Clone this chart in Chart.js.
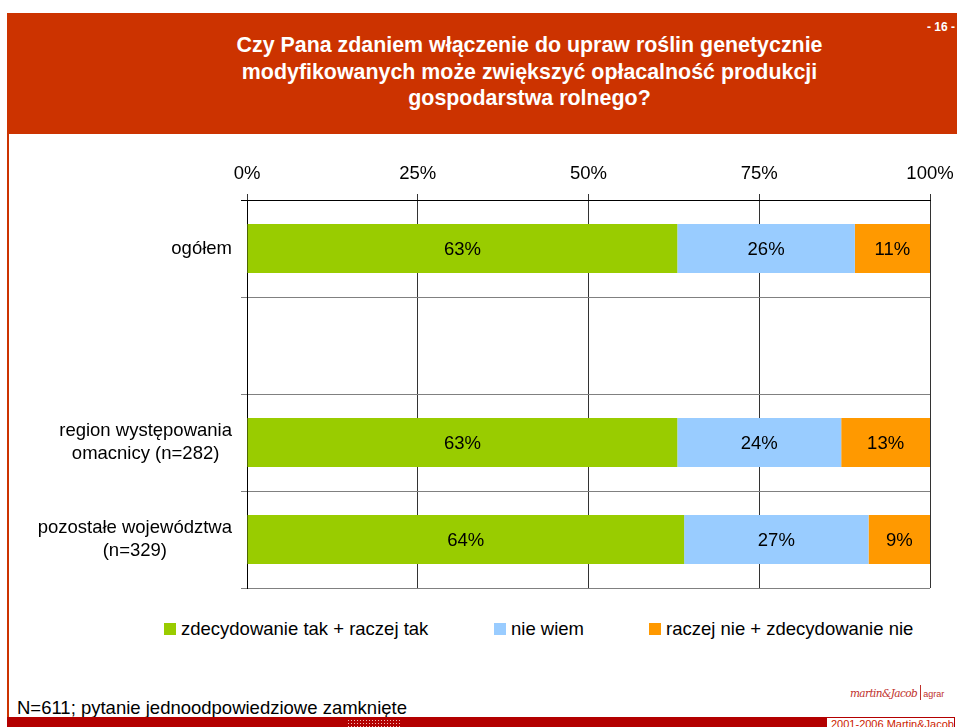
<!DOCTYPE html>
<html>
<head>
<meta charset="utf-8">
<script src="https://cdn.jsdelivr.net/npm/chart.js@4/dist/chart.umd.min.js"></script>
<style>
  html, body { margin:0; padding:0; background:#fff; }
  body { width:957px; height:727px; position:relative; overflow:hidden; font-family:"Liberation Sans", Arial, sans-serif; }
  #header { position:absolute; left:7px; top:13px; width:950px; height:121px; background:#CC3300; }
  #title { position:absolute; left:7px; top:32px; width:1045px; text-align:center; color:#fff; font-weight:bold; font-size:21.4px; line-height:26.5px; }
  #page { position:absolute; left:927px; top:20px; color:#fff; font-weight:bold; font-size:12px; white-space:nowrap; }
  #leftline { position:absolute; left:7px; top:134px; width:2px; height:584px; background:#CC3300; }
  #chartbox { position:absolute; left:0; top:140px; width:957px; height:460px; }
  #legend { position:absolute; top:618px; left:0; width:957px; height:24px; font-size:18.5px; color:#000; }
  .li { position:absolute; top:0; white-space:nowrap; line-height:22px; }
  .sw { position:absolute; width:12px; height:12px; top:5px; }
  #note { position:absolute; left:17px; top:697px; font-size:18.5px; color:#000; white-space:nowrap; line-height:22px; }
  #bottombar { position:absolute; left:7px; top:717px; width:819px; height:10px; background:#B30000; }
  #dots { position:absolute; left:347px; top:719px; width:54px; height:8px;
          background-image: radial-gradient(circle, rgba(255,220,220,0.85) 0.7px, transparent 1px); background-size:3px 3px; }
  #copy { position:absolute; left:826px; top:717px; width:129px; height:12px; border:1px solid #B30000; background:#fff; color:#CC2200; font-size:11px; line-height:12px; padding-left:4px; box-sizing:border-box; white-space:nowrap; overflow:hidden; }
  #logo { position:absolute; left:850px; top:683px; color:#C0302A; white-space:nowrap; }
  #logo .sig { font-family:"DejaVu Serif", serif; font-style:italic; font-size:10.5px; letter-spacing:-0.6px; }
  #logo .bar { display:inline-block; width:1px; height:15px; background:#C0302A; vertical-align:middle; margin:0 2px 0 3px; }
  #logo .ag { font-size:9px; }
</style>
</head>
<body>
<div id="header"></div>
<div id="title">Czy Pana zdaniem włączenie do upraw roślin genetycznie<br>modyfikowanych może zwiększyć opłacalność produkcji<br>gospodarstwa rolnego?</div>
<div id="page">- 16 -</div>
<div id="leftline"></div>
<div id="chartbox"><canvas id="c"></canvas></div>
<div id="legend"></div>
<div id="note">N=611; pytanie jednoodpowiedziowe zamknięte</div>
<div id="logo"><span class="sig">martin&amp;Jacob</span><span class="bar"></span><span class="ag">agrar</span></div>
<div id="bottombar"></div>
<div id="dots"></div>
<div id="copy">2001-2006 Martin&amp;Jacob</div>
<script>
// ---- data ----
const categories = ['ogółem', '', ['region występowania', 'omacnicy (n=282)'], ['pozostałe województwa', '(n=329)']];
const seriesNames = ['zdecydowanie tak + raczej tak', 'nie wiem', 'raczej nie + zdecydowanie nie'];
const valuesYes = [63, null, 63, 64];
const valuesDontKnow = [26, null, 24, 27];
const valuesNo = [11, null, 13, 9];
const xTickLabels = ['0%', '25%', '50%', '75%', '100%'];
const seriesColors = ['#99CC00', '#99CCFF', '#FF9900'];

const FONT = '"Liberation Sans", Arial, sans-serif';

// legend (HTML)
const legendPos = [164, 494, 649];
const legend = document.getElementById('legend');
seriesNames.forEach((n, i) => {
  const d = document.createElement('div');
  d.className = 'li';
  d.style.left = legendPos[i] + 'px';
  d.innerHTML = '<span class="sw" style="background:' + seriesColors[i] + '"></span><span style="margin-left:17px">' + n + '</span>';
  legend.appendChild(d);
});

const valueLabels = {
  id: 'valueLabels',
  afterDatasetsDraw(chart) {
    const ctx = chart.ctx;
    ctx.save();
    ctx.font = '18.5px ' + FONT;
    ctx.fillStyle = '#000';
    ctx.textAlign = 'center';
    ctx.textBaseline = 'middle';
    chart.data.datasets.forEach((ds, di) => {
      const meta = chart.getDatasetMeta(di);
      meta.data.forEach((el, i) => {
        const v = ds.data[i];
        if (v === null || v === undefined) return;
        const p = el.getProps(['x', 'y', 'base'], true);
        ctx.fillText(v + '%', (p.x + p.base) / 2, p.y + 1);
      });
    });
    ctx.restore();
  }
};

const catLabels = {
  id: 'catLabels',
  afterDraw(chart) {
    const ctx = chart.ctx;
    const ys = chart.scales.y;
    ctx.save();
    ctx.font = '18.5px ' + FONT;
    ctx.fillStyle = '#000';
    ctx.textAlign = 'center';
    ctx.textBaseline = 'middle';
    const right = ys.right - 15;
    categories.forEach((lab, i) => {
      const lines = Array.isArray(lab) ? lab : [lab];
      if (!lines[0]) return;
      const w = Math.max(...lines.map(l => ctx.measureText(l).width));
      const cx = right - w / 2;
      const cy = ys.getPixelForValue(i);
      const lh = 23;
      lines.forEach((l, k) => {
        ctx.fillText(l, cx, cy + (k - (lines.length - 1) / 2) * lh);
      });
    });
    ctx.restore();
  }
};

new Chart(document.getElementById('c'), {
  type: 'bar',
  data: {
    labels: categories,
    datasets: [
      { label: seriesNames[0], data: valuesYes, backgroundColor: seriesColors[0] },
      { label: seriesNames[1], data: valuesDontKnow, backgroundColor: seriesColors[1] },
      { label: seriesNames[2], data: valuesNo, backgroundColor: seriesColors[2] }
    ]
  },
  options: {
    indexAxis: 'y',
    responsive: true,
    maintainAspectRatio: false,
    animation: false,
    layout: { padding: { left: 0, right: 27, top: 0, bottom: 12 } },
    datasets: { bar: { barPercentage: 0.505, categoryPercentage: 1, borderWidth: 0 } },
    plugins: { legend: { display: false }, tooltip: { enabled: false }, title: { display: false } },
    scales: {
      x: {
        position: 'top',
        stacked: true,
        min: 0, max: 100,
        ticks: { stepSize: 25, color: '#000', font: { size: 18.5, family: FONT }, padding: 9,
                 callback: (v, i) => xTickLabels[i] },
        grid: { color: '#333', lineWidth: 1, tickLength: 6, drawTicks: true },
        border: { color: '#000', width: 1 },
        afterFit: s => { s.height = 60; s.paddingLeft = 0; s.paddingRight = 0; }
      },
      y: {
        stacked: true,
        ticks: { display: false },
        grid: { offset: true, tickLength: 6, lineWidth: 1,
                color: c => (c.index === 0 ? '#000' : (c.index === categories.length ? '#444' : '#808080')) },
        border: { color: '#000', width: 1 },
        afterFit: s => { s.width = 247; }
      }
    }
  },
  plugins: [valueLabels, catLabels]
});
</script>
</body>
</html>
